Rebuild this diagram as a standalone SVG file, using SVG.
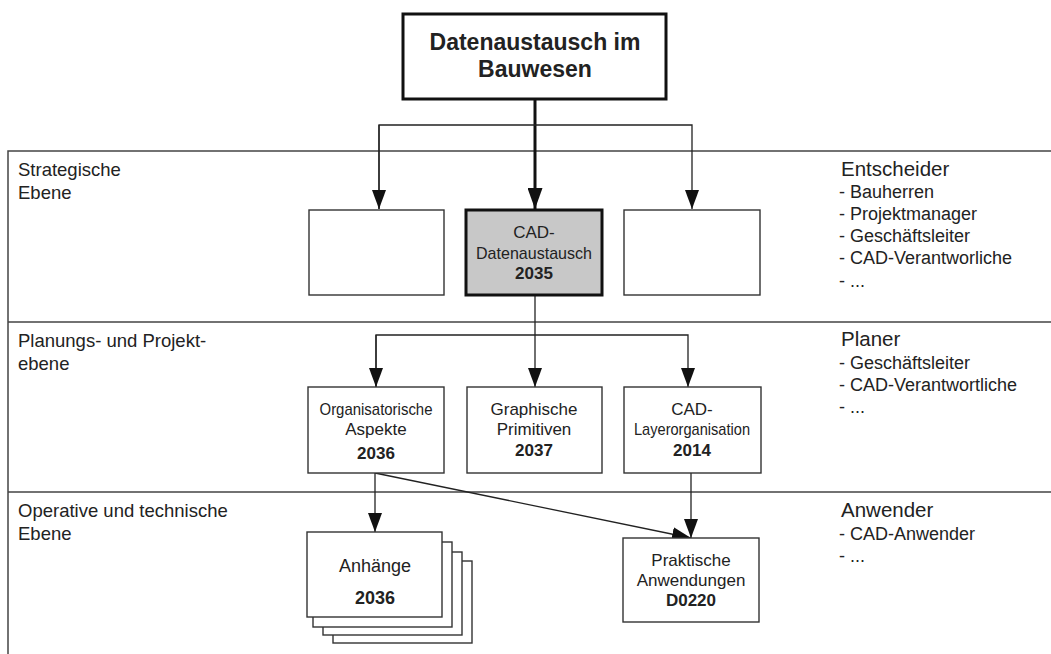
<svg xmlns="http://www.w3.org/2000/svg" width="1051" height="654" viewBox="0 0 1051 654">
<defs>
<marker id="arr" markerUnits="userSpaceOnUse" markerWidth="19" markerHeight="14" viewBox="0 0 19 14" refX="19" refY="7" orient="auto">
<path d="M0,0 L19,7 L0,14 z" fill="#111"/>
</marker>
<marker id="arrB" markerUnits="userSpaceOnUse" markerWidth="21" markerHeight="15" viewBox="0 0 21 15" refX="21" refY="7.5" orient="auto">
<path d="M0,0 L21,7.5 L0,15 z" fill="#111"/>
</marker>
</defs>
<style>
.lane{stroke:#444;stroke-width:1.5;fill:none}
.box{fill:#fff;stroke:#333;stroke-width:1.4}
.t{font-family:"Liberation Sans",Arial,sans-serif;fill:#222;text-anchor:middle;font-size:17px}
.b{font-weight:bold}
.lbl{font-family:"Liberation Sans",Arial,sans-serif;fill:#222;font-size:18.5px}
.role{font-family:"Liberation Sans",Arial,sans-serif;fill:#222;font-size:20.5px}
.item{font-family:"Liberation Sans",Arial,sans-serif;fill:#222;font-size:18px}
.c{fill:none;stroke:#222;stroke-width:1.3}
</style>
<rect width="1051" height="654" fill="#fff"/>
<g id="lanes">
<path class="lane" d="M8,654 L8,151 L1051,151 M8,322 L1051,322 M8,492 L1051,492"/>
<text class="lbl" x="18" y="176">Strategische</text>
<text class="lbl" x="18" y="199">Ebene</text>
<text class="lbl" x="18" y="347">Planungs- und Projekt-</text>
<text class="lbl" x="18" y="370">ebene</text>
<text class="lbl" x="18" y="517">Operative und technische</text>
<text class="lbl" x="18" y="540">Ebene</text>
<text class="role" x="841" y="176">Entscheider</text>
<text class="item" x="839" y="198">- Bauherren</text>
<text class="item" x="839" y="220">- Projektmanager</text>
<text class="item" x="839" y="242">- Geschäftsleiter</text>
<text class="item" x="839" y="264">- CAD-Verantworliche</text>
<text class="item" x="839" y="287">- ...</text>
<text class="role" x="841" y="346">Planer</text>
<text class="item" x="839" y="369">- Geschäftsleiter</text>
<text class="item" x="839" y="391">- CAD-Verantwortliche</text>
<text class="item" x="839" y="413">- ...</text>
<text class="role" x="841" y="517">Anwender</text>
<text class="item" x="839" y="540">- CAD-Anwender</text>
<text class="item" x="839" y="562">- ...</text>
</g>
<g id="connectors">
<path d="M535,99 L535,209" fill="none" stroke="#111" stroke-width="3" marker-end="url(#arrB)"/>
<path class="c" d="M379,209 L379,125 L692,125 L692,209" marker-end="url(#arr)"/>
<path class="c" d="M379,125 L379,209" marker-end="url(#arr)"/>
<path class="c" d="M535,295 L535,387" marker-end="url(#arr)"/>
<path class="c" d="M376,387 L376,335 L688,335 L688,387" marker-end="url(#arr)"/>
<path class="c" d="M376,335 L376,387" marker-end="url(#arr)"/>
<path class="c" d="M375,473 L375,532" marker-end="url(#arr)"/>
<path class="c" d="M375,473 L691,538" marker-end="url(#arr)"/>
<path class="c" d="M691,473 L691,538" marker-end="url(#arr)"/>
</g>
<g id="n-top">
<rect x="403" y="14" width="263" height="85" fill="#fff" stroke="#111" stroke-width="3"/>
<text class="t b" x="535" y="50" style="font-size:23px">Datenaustausch im</text>
<text class="t b" x="535" y="77" style="font-size:23px">Bauwesen</text>
</g>
<g id="n-left-empty">
<rect class="box" x="309" y="210" width="135" height="85"/>
</g>
<g id="n-cad">
<rect x="466" y="210" width="136" height="85" fill="#c8c8c8" stroke="#111" stroke-width="3"/>
<text class="t" x="534" y="238">CAD-</text>
<text class="t" x="534" y="259" textLength="116" lengthAdjust="spacingAndGlyphs">Datenaustausch</text>
<text class="t b" x="534" y="279">2035</text>
</g>
<g id="n-right-empty">
<rect class="box" x="624" y="210" width="136" height="85"/>
</g>
<g id="n-org">
<rect class="box" x="308" y="387" width="136" height="86"/>
<text class="t" x="376" y="415" textLength="113" lengthAdjust="spacingAndGlyphs">Organisatorische</text>
<text class="t" x="376" y="435">Aspekte</text>
<text class="t b" x="376" y="459">2036</text>
</g>
<g id="n-graph">
<rect class="box" x="467" y="387" width="135" height="86"/>
<text class="t" x="534" y="415">Graphische</text>
<text class="t" x="534" y="435">Primitiven</text>
<text class="t b" x="534" y="456">2037</text>
</g>
<g id="n-layer">
<rect class="box" x="624" y="387" width="137" height="86"/>
<text class="t" x="692" y="415">CAD-</text>
<text class="t" x="692" y="435" textLength="116" lengthAdjust="spacingAndGlyphs">Layerorganisation</text>
<text class="t b" x="692" y="456">2014</text>
</g>
<g id="n-anh">
<rect class="box" x="333" y="561" width="139" height="82"/>
<rect class="box" x="323" y="552" width="139" height="83"/>
<rect class="box" x="313" y="542" width="139" height="85"/>
<rect class="box" x="307" y="532" width="135" height="85"/>
<text class="t" x="375" y="572" style="font-size:18px">Anhänge</text>
<text class="t b" x="375" y="604" style="font-size:18px">2036</text>
</g>
<g id="n-prak">
<rect class="box" x="623" y="538" width="136" height="84"/>
<text class="t" x="691" y="566">Praktische</text>
<text class="t" x="691" y="586">Anwendungen</text>
<text class="t b" x="691" y="606">D0220</text>
</g>
</svg>
